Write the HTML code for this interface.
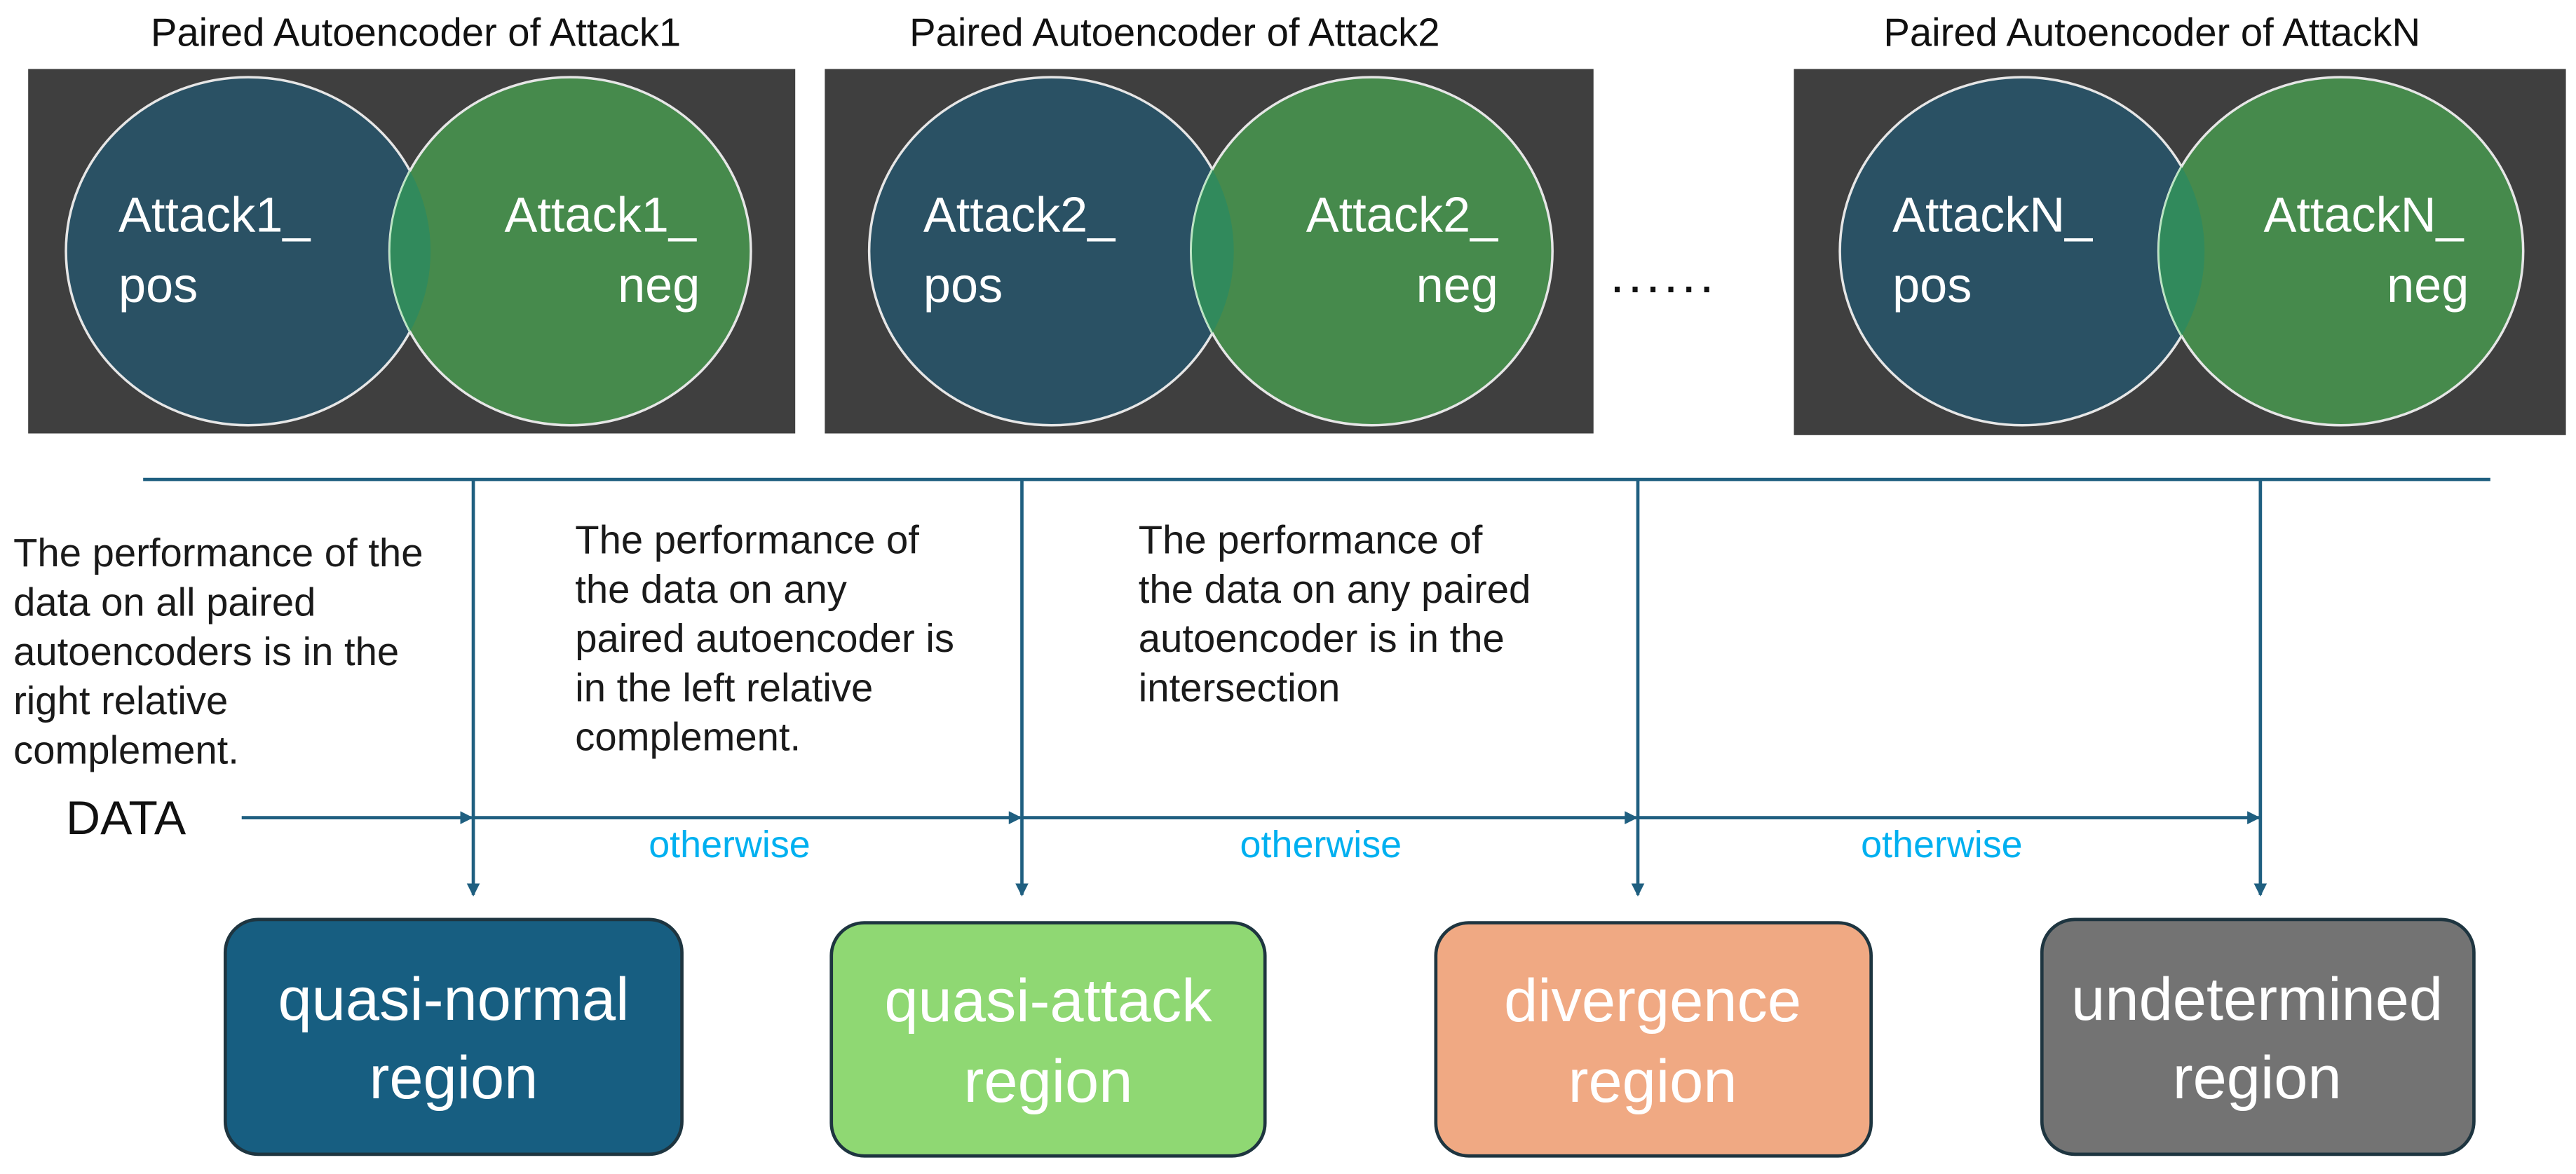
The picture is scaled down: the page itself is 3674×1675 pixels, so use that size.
<!DOCTYPE html>
<html><head><meta charset="utf-8"><style>html,body{margin:0;padding:0;background:#fff}svg{display:block}</style></head>
<body>
<svg width="3674" height="1675" viewBox="0 0 1568 715" xmlns="http://www.w3.org/2000/svg" font-family="Liberation Sans, sans-serif">
<defs>
<marker id="ar" markerWidth="8" markerHeight="8" refX="7" refY="4" orient="auto" markerUnits="userSpaceOnUse"><path d="M0,0 L8,4 L0,8 Z" fill="#1f5f80"/></marker>
</defs>
<g font-size="24" fill="#111" text-anchor="middle">
<text x="253" y="28">Paired Autoencoder of Attack1</text>
<text x="715" y="28">Paired Autoencoder of Attack2</text>
<text x="1310" y="28">Paired Autoencoder of AttackN</text>
</g>
<rect x="17" y="42" width="467" height="222" fill="#3f3f3f"/>
<rect x="502" y="42" width="468" height="222" fill="#3f3f3f"/>
<rect x="1092" y="42" width="470" height="223" fill="#3f3f3f"/>
<g stroke="#e6e6e6" stroke-width="1.5">
<ellipse cx="151" cy="153" rx="111" ry="106" fill="#2a5164"/>
<ellipse cx="347" cy="153" rx="110" ry="106" fill="#468a4c"/>
<ellipse cx="640" cy="153" rx="111" ry="106" fill="#2a5164"/>
<ellipse cx="835" cy="153" rx="110" ry="106" fill="#468a4c"/>
<ellipse cx="1231" cy="153" rx="111" ry="106" fill="#2a5164"/>
<ellipse cx="1425" cy="153" rx="111" ry="106" fill="#468a4c"/>
</g>
<clipPath id="c1"><ellipse cx="151" cy="153" rx="111" ry="106"/></clipPath>
<clipPath id="c2"><ellipse cx="640" cy="153" rx="111" ry="106"/></clipPath>
<clipPath id="c3"><ellipse cx="1231" cy="153" rx="111" ry="106"/></clipPath>
<ellipse cx="347" cy="153" rx="110" ry="106" fill="#318a5c" stroke="#b8e6c0" stroke-width="1" clip-path="url(#c1)"/>
<ellipse cx="835" cy="153" rx="110" ry="106" fill="#318a5c" stroke="#b8e6c0" stroke-width="1" clip-path="url(#c2)"/>
<ellipse cx="1425" cy="153" rx="111" ry="106" fill="#318a5c" stroke="#b8e6c0" stroke-width="1" clip-path="url(#c3)"/>
<g font-size="30" fill="#fff">
<text x="72" y="141">Attack1_</text><text x="72" y="184">pos</text>
<text x="307" y="141">Attack1_</text><text x="426" y="184" text-anchor="end">neg</text>
<text x="562" y="141">Attack2_</text><text x="562" y="184">pos</text>
<text x="795" y="141">Attack2_</text><text x="912" y="184" text-anchor="end">neg</text>
<text x="1152" y="141">AttackN_</text><text x="1152" y="184">pos</text>
<text x="1378" y="141">AttackN_</text><text x="1503" y="184" text-anchor="end">neg</text>
</g>
<text x="980" y="178" font-size="32" fill="#111" letter-spacing="2">......</text>
<g stroke="#1f5f80" stroke-width="2" fill="none">
<line x1="87" y1="292" x2="1516" y2="292"/>
<line x1="288" y1="292" x2="288" y2="545" marker-end="url(#ar)"/>
<line x1="622" y1="292" x2="622" y2="545" marker-end="url(#ar)"/>
<line x1="997" y1="292" x2="997" y2="545" marker-end="url(#ar)"/>
<line x1="1376" y1="292" x2="1376" y2="545" marker-end="url(#ar)"/>
<line x1="147" y1="498" x2="287" y2="498" marker-end="url(#ar)"/>
<line x1="288" y1="498" x2="621" y2="498" marker-end="url(#ar)"/>
<line x1="622" y1="498" x2="996" y2="498" marker-end="url(#ar)"/>
<line x1="997" y1="498" x2="1375" y2="498" marker-end="url(#ar)"/>
</g>
<text x="40" y="508" font-size="29" fill="#111">DATA</text>
<g font-size="23" fill="#00b0f0" text-anchor="middle">
<text x="444" y="522">otherwise</text><text x="804" y="522">otherwise</text><text x="1182" y="522">otherwise</text>
</g>
<g font-size="24" fill="#1a1a1a">
<text x="8" y="345">The performance of the</text>
<text x="8" y="375">data on all paired</text>
<text x="8" y="405">autoencoders is in the</text>
<text x="8" y="435">right relative</text>
<text x="8" y="465">complement.</text>
<text x="350" y="337">The performance of</text>
<text x="350" y="367">the data on any</text>
<text x="350" y="397">paired autoencoder is</text>
<text x="350" y="427">in the left relative</text>
<text x="350" y="457">complement.</text>
<text x="693" y="337">The performance of</text>
<text x="693" y="367">the data on any paired</text>
<text x="693" y="397">autoencoder is in the</text>
<text x="693" y="427">intersection</text>
</g>
<g stroke="#1e3540" stroke-width="2">
<rect x="137" y="560" width="278" height="143" rx="20" fill="#175e81"/>
<rect x="506" y="562" width="264" height="142" rx="20" fill="#8fd873"/>
<rect x="874" y="562" width="265" height="142" rx="20" fill="#f0a983"/>
<rect x="1243" y="560" width="263" height="143" rx="20" fill="#737373"/>
</g>
<g font-size="37" fill="#fff" text-anchor="middle">
<text x="276" y="621">quasi-normal</text><text x="276" y="669">region</text>
<text x="638" y="622">quasi-attack</text><text x="638" y="671">region</text>
<text x="1006" y="622">divergence</text><text x="1006" y="671">region</text>
<text x="1374" y="621">undetermined</text><text x="1374" y="669">region</text>
</g>
</svg>
</body></html>
